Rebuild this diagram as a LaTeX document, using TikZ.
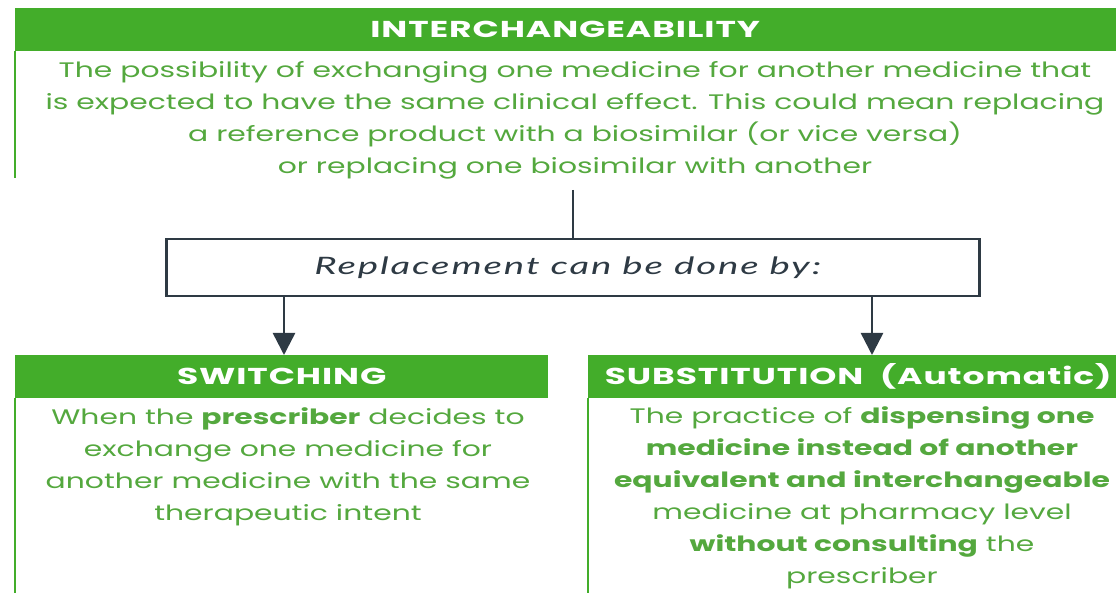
\documentclass[tikz,border=0pt]{standalone}
\usepackage{fontspec}
\setmainfont{Poppins}[FakeStretch=1.42]
\newfontfamily\headfont{Poppins}[FakeStretch=1.5, LetterSpace=4]
\newfontfamily\notefont{Lato}[FakeStretch=1.6, LetterSpace=8]
\definecolor{leafgreen}{RGB}{67,173,42}
\definecolor{textgreen}{RGB}{84,168,62}
\definecolor{slate}{RGB}{46,58,68}
\usetikzlibrary{arrows.meta, positioning}
\tikzstyle{heading} = [
    rectangle,
    anchor = north west,
    inner sep = 0pt,
    minimum height = 43pt,
    text = white,
    font = \headfont\bfseries\fontsize{23}{26}\selectfont,
    fill = leafgreen
]
\tikzstyle{bodytext} = [
    align = center,
    inner sep = 0pt,
    text = textgreen,
    font = \fontsize{21}{32}\selectfont
]
\tikzstyle{replace} = [
    rectangle,
    anchor = north west,
    minimum width = 813pt,
    minimum height = 57pt,
    inner sep = 0pt,
    text = slate,
    font = \notefont\itshape\fontsize{24}{26}\selectfont,
    draw = slate,
    line width = 2.5pt
]
\tikzstyle{sideline} = [draw = leafgreen, line width = 2.5pt]
\tikzstyle{link} = [draw = slate, line width = 2.5pt, -{Triangle[length=22pt, width=22pt]}]

\begin{document}
\begin{tikzpicture}[x=1pt, y=-1pt]
        \useasboundingbox (0,0) rectangle (1116,593);
        \clip (0,0) rectangle (1116,593);

        %% Headings
        \node (inthead) [heading, minimum width=1120pt] at (15,8) {\hspace*{-20pt}INTERCHANGEABILITY};
        \node (swhead)  [heading, minimum width=533pt]  at (15,355) {SWITCHING};
        \node (subhead) [heading, minimum width=540pt]  at (588,355) {SUBSTITUTION\ \ (Automatic)};

        %% Side lines
        \coordinate (intend) at (15,178);
        \coordinate (swend)  at (15,593);
        \coordinate (subend) at (588,593);
        \draw [sideline] (inthead.south west) -- (intend);
        \draw [sideline] (swhead.south west) -- (swend);
        \draw [sideline] (subhead.south west) -- (subend);

        %% Texts
        \node (intbody) [bodytext] at (575,120) {The possibility of exchanging one medicine for another medicine that\\
            is expected to have the same clinical effect. This could mean replacing\\
            a reference product with a biosimilar (or vice versa)\\
            or replacing one biosimilar with another};
        \node (swbody) [bodytext] at (288,467) {When the \textbf{prescriber} decides to\\
            exchange one medicine for\\
            another medicine with the same\\
            therapeutic intent};
        \node (subbody) [bodytext] at (862,498) {The practice of \textbf{dispensing one}\\
            \textbf{medicine instead of another}\\
            \textbf{equivalent and interchangeable}\\
            medicine at pharmacy level\\
            \textbf{without consulting} the\\
            prescriber};

        %% Flowchart
        \node (choice) [replace] at (165,238) {Replacement can be done by:\hspace*{10pt}};
        \coordinate (stem) at (573,190);
        \draw [draw=slate, line width=2.5pt] (stem) -- (stem |- choice.north);
        \draw [link] (choice.south -| 284,0) -- (swhead.north -| 284,0);
        \draw [link] (choice.south -| 872,0) -- (subhead.north -| 872,0);

    \end{tikzpicture}
\end{document}
